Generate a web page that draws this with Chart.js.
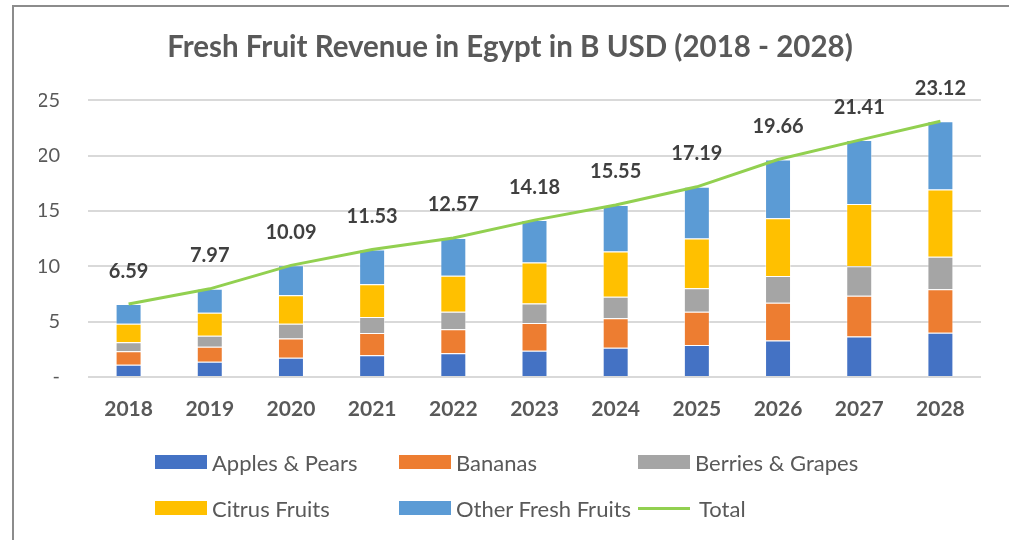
<!DOCTYPE html>
<html>
<head>
<meta charset="utf-8">
<script src="https://cdn.jsdelivr.net/npm/chart.js@4/dist/chart.umd.min.js"></script>
<style>
  html, body { margin: 0; padding: 0; background: #fff; }
  #wrap { position: relative; width: 1009px; height: 540px; overflow: hidden; font-family: Lato, "Open Sans", sans-serif; }
  #frame { position: absolute; left: 12px; top: 5px; width: 1100px; height: 700px; border: 2px solid #8c8c8c; box-sizing: border-box; }
  #chart { position: absolute; left: 0; top: 0; }
  .leg { position: absolute; display: flex; align-items: center; font-size: 22px; color: #595959; white-space: nowrap; }
  .leg .sw { width: 52px; height: 14px; margin-right: 5px; }
  .leg .ln { width: 52px; height: 3px; margin-right: 9px; }
</style>
</head>
<body>
<div id="wrap">
  <div id="frame"></div>
  <canvas id="chart" width="1009" height="540"></canvas>
  <div id="legend"></div>
</div>
<script>
// Data (B USD)
const years = ['2018', '2019', '2020', '2021', '2022', '2023', '2024', '2025', '2026', '2027', '2028'];
const applesPears = [1.11, 1.38, 1.74, 1.96, 2.14, 2.38, 2.65, 2.89, 3.31, 3.67, 4.00];
const bananas = [1.21, 1.35, 1.75, 2.01, 2.17, 2.49, 2.67, 3.00, 3.40, 3.67, 3.94];
const berriesGrapes = [0.81, 1.00, 1.32, 1.45, 1.59, 1.78, 1.93, 2.13, 2.41, 2.68, 2.92];
const citrusFruits = [1.68, 2.07, 2.59, 2.97, 3.25, 3.70, 4.10, 4.49, 5.23, 5.62, 6.08];
const otherFresh = [1.78, 2.17, 2.69, 3.14, 3.42, 3.83, 4.20, 4.68, 5.31, 5.77, 6.18];
const totals = [6.59, 7.97, 10.09, 11.53, 12.57, 14.18, 15.55, 17.19, 19.66, 21.41, 23.12];
const yTicks = [0, 5, 10, 15, 20, 25];

const FONT = 'Lato, "Open Sans", sans-serif';
const TEXT = '#595959';

const barSeries = [
    { label: 'Apples & Pears', data: applesPears, color: '#4472C4' },
    { label: 'Bananas', data: bananas, color: '#ED7D31' },
    { label: 'Berries & Grapes', data: berriesGrapes, color: '#A5A5A5' },
    { label: 'Citrus Fruits', data: citrusFruits, color: '#FFC000' },
    { label: 'Other Fresh Fruits', data: otherFresh, color: '#5B9BD5' }
];

const datasets = barSeries.map(s => ({
    type: 'bar',
    label: s.label,
    data: s.data,
    backgroundColor: s.color,
    borderColor: 'rgba(255,255,255,0.45)',
    borderWidth: 1,
    stack: 'fruit',
    categoryPercentage: 1,
    barPercentage: 0.32,
    order: 2
}));
datasets.push({
    type: 'line',
    label: 'Total',
    data: totals,
    borderColor: '#92D050',
    backgroundColor: '#92D050',
    borderWidth: 3,
    pointRadius: 0,
    tension: 0,
    order: 1
});

// total value labels above the line points
const totalLabels = {
    id: 'totalLabels',
    afterDatasetsDraw(chart) {
        const ctx = chart.ctx;
        const meta = chart.getDatasetMeta(datasets.length - 1);
        ctx.save();
        ctx.font = 'bold 20px ' + FONT;
        ctx.fillStyle = '#404040';
        ctx.textAlign = 'center';
        ctx.textBaseline = 'middle';
        meta.data.forEach((pt, i) => {
            ctx.fillText(totals[i].toFixed(2), pt.x, pt.y - 33);
        });
        ctx.restore();
    }
};

new Chart(document.getElementById('chart'), {
    data: { labels: years, datasets: datasets },
    options: {
        responsive: false,
        animation: false,
        layout: { padding: { left: 39, right: 28, top: 0, bottom: 103 } },
        plugins: {
            legend: { display: false },
            tooltip: { enabled: false },
            title: {
                display: true,
                text: 'Fresh Fruit Revenue in Egypt in B USD (2018 - 2028)',
                color: TEXT,
                font: { family: FONT, size: 29.5, weight: 'bold' },
                padding: { top: 30, bottom: 35 }
            }
        },
        scales: {
            x: {
                stacked: true,
                grid: { display: false, drawTicks: false },
                border: { display: false },
                ticks: { color: TEXT, font: { family: FONT, size: 21, weight: 'bold' }, padding: 20 },
                afterFit: s => { s.height = 60; }
            },
            y: {
                stacked: true,
                min: 0,
                max: 25,
                afterBuildTicks: s => { s.ticks = yTicks.map(v => ({ value: v })); },
                grid: { color: '#D9D9D9', lineWidth: 2, drawTicks: false },
                border: { display: false },
                ticks: {
                    color: TEXT,
                    font: { family: FONT, size: 20 },
                    padding: 28,
                    callback: v => v === 0 ? '-' : v
                },
                afterFit: s => { s.width = 49; }
            }
        }
    },
    plugins: [totalLabels]
});

// legend laid out in the same grid as the reference
const legendPos = [
    { x: 155, y: 462 }, { x: 399, y: 462 }, { x: 638, y: 462 },
    { x: 155, y: 508 }, { x: 399, y: 508 }, { x: 638, y: 508 }
];
const legendEl = document.getElementById('legend');
datasets.forEach((d, i) => {
    const item = document.createElement('div');
    item.className = 'leg';
    item.style.left = legendPos[i].x + 'px';
    item.style.top = (legendPos[i].y - 13) + 'px';
    item.style.height = '26px';
    const mark = document.createElement('span');
    mark.className = d.type === 'line' ? 'ln' : 'sw';
    mark.style.background = d.type === 'line' ? d.borderColor : d.backgroundColor;
    const txt = document.createElement('span');
    txt.textContent = d.label;
    item.appendChild(mark);
    item.appendChild(txt);
    legendEl.appendChild(item);
});
</script>
</body>
</html>
